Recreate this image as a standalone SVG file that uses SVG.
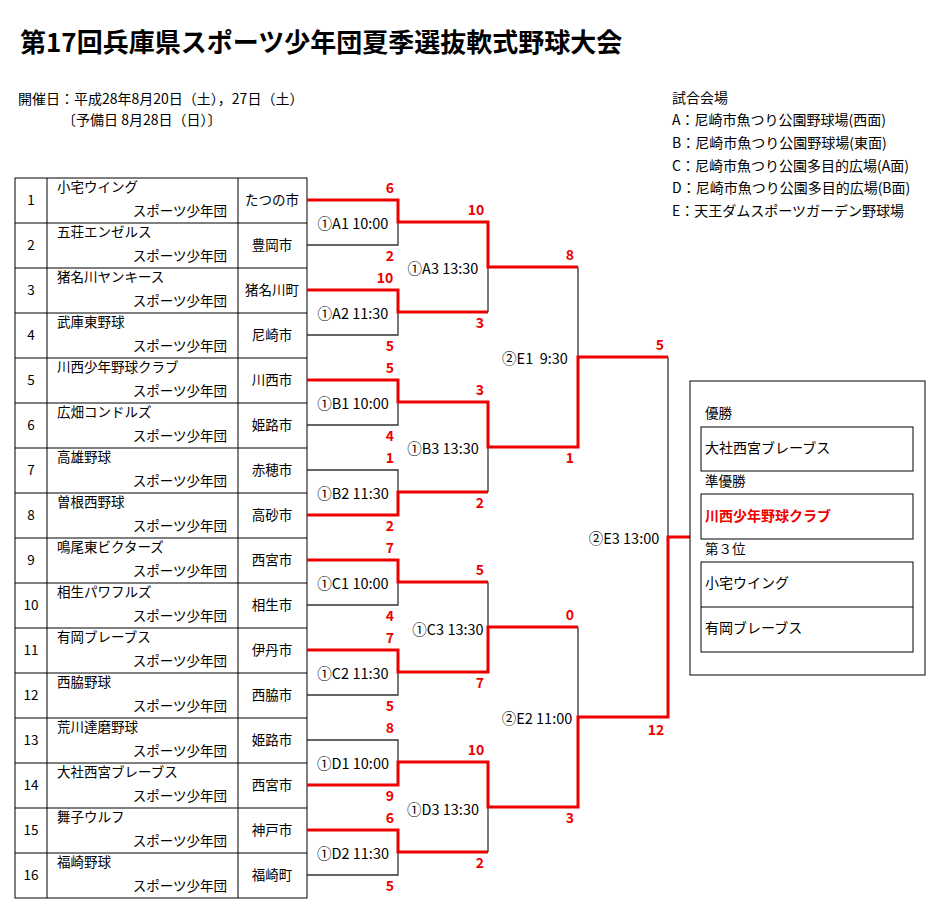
<svg xmlns="http://www.w3.org/2000/svg" width="939" height="923" viewBox="0 0 939 923">
<style>
text{font-family:"Noto Sans CJK JP","Liberation Sans",sans-serif;font-size:13.5px;fill:#000}
.t{font-size:26px;font-weight:bold}
.h{font-size:14px}
.c{text-anchor:middle}
.r{text-anchor:end}
.s{fill:#ee0000;font-weight:bold;text-anchor:middle;font-size:14px}
.g{text-anchor:middle;dominant-baseline:central;font-size:14.5px}
.cell{fill:none;stroke:#000;stroke-width:1}
.bk{fill:none;stroke:#333;stroke-width:1.3}
.rd{fill:none;stroke:#ee0000;stroke-width:3}
</style>
<rect width="939" height="923" fill="#fff"/>
<text class="t" x="20" y="52">第17回兵庫県スポーツ少年団夏季選抜軟式野球大会</text>
<text class="h" x="18" y="104">開催日：平成28年8月20日（土），27日（土）</text>
<text class="h" x="62" y="125">〔予備日 8月28日（日）〕</text>
<g id="venues">
<text class="h" x="672" y="103">試合会場</text>
<text class="h" x="672" y="125">A：尼崎市魚つり公園野球場(西面)</text>
<text class="h" x="672" y="148">B：尼崎市魚つり公園野球場(東面)</text>
<text class="h" x="672" y="171">C：尼崎市魚つり公園多目的広場(A面)</text>
<text class="h" x="672" y="193">D：尼崎市魚つり公園多目的広場(B面)</text>
<text class="h" x="672" y="216">E：天王ダムスポーツガーデン野球場</text>
</g>
<g id="table">
<rect class="cell" x="15" y="178" width="292" height="720"/>
<line class="cell" x1="47" y1="178" x2="47" y2="898"/>
<line class="cell" x1="238" y1="178" x2="238" y2="898"/>
<g stroke="#000">
<line x1="15" y1="223" x2="307" y2="223"/><line x1="15" y1="268" x2="307" y2="268"/><line x1="15" y1="313" x2="307" y2="313"/><line x1="15" y1="358" x2="307" y2="358"/><line x1="15" y1="403" x2="307" y2="403"/><line x1="15" y1="448" x2="307" y2="448"/><line x1="15" y1="493" x2="307" y2="493"/><line x1="15" y1="538" x2="307" y2="538"/><line x1="15" y1="583" x2="307" y2="583"/><line x1="15" y1="628" x2="307" y2="628"/><line x1="15" y1="673" x2="307" y2="673"/><line x1="15" y1="718" x2="307" y2="718"/><line x1="15" y1="763" x2="307" y2="763"/><line x1="15" y1="808" x2="307" y2="808"/><line x1="15" y1="853" x2="307" y2="853"/>
</g>
</g>
<g id="teams">
<g id="t1"><text class="c" x="31" y="205">1</text><text x="57" y="192">小宅ウイング</text><text class="r" x="227" y="216">スポーツ少年団</text><text class="c" x="272" y="205">たつの市</text></g>
<g id="t2"><text class="c" x="31" y="250">2</text><text x="57" y="237">五荘エンゼルス</text><text class="r" x="227" y="261">スポーツ少年団</text><text class="c" x="272" y="250">豊岡市</text></g>
<g id="t3"><text class="c" x="31" y="295">3</text><text x="57" y="282">猪名川ヤンキース</text><text class="r" x="227" y="306">スポーツ少年団</text><text class="c" x="272" y="295">猪名川町</text></g>
<g id="t4"><text class="c" x="31" y="340">4</text><text x="57" y="327">武庫東野球</text><text class="r" x="227" y="351">スポーツ少年団</text><text class="c" x="272" y="340">尼崎市</text></g>
<g id="t5"><text class="c" x="31" y="385">5</text><text x="57" y="372">川西少年野球クラブ</text><text class="r" x="227" y="396">スポーツ少年団</text><text class="c" x="272" y="385">川西市</text></g>
<g id="t6"><text class="c" x="31" y="430">6</text><text x="57" y="417">広畑コンドルズ</text><text class="r" x="227" y="441">スポーツ少年団</text><text class="c" x="272" y="430">姫路市</text></g>
<g id="t7"><text class="c" x="31" y="475">7</text><text x="57" y="462">高雄野球</text><text class="r" x="227" y="486">スポーツ少年団</text><text class="c" x="272" y="475">赤穂市</text></g>
<g id="t8"><text class="c" x="31" y="520">8</text><text x="57" y="507">曽根西野球</text><text class="r" x="227" y="531">スポーツ少年団</text><text class="c" x="272" y="520">高砂市</text></g>
<g id="t9"><text class="c" x="31" y="565">9</text><text x="57" y="552">鳴尾東ビクターズ</text><text class="r" x="227" y="576">スポーツ少年団</text><text class="c" x="272" y="565">西宮市</text></g>
<g id="t10"><text class="c" x="31" y="610">10</text><text x="57" y="597">相生パワフルズ</text><text class="r" x="227" y="621">スポーツ少年団</text><text class="c" x="272" y="610">相生市</text></g>
<g id="t11"><text class="c" x="31" y="655">11</text><text x="57" y="642">有岡ブレーブス</text><text class="r" x="227" y="666">スポーツ少年団</text><text class="c" x="272" y="655">伊丹市</text></g>
<g id="t12"><text class="c" x="31" y="700">12</text><text x="57" y="687">西脇野球</text><text class="r" x="227" y="711">スポーツ少年団</text><text class="c" x="272" y="700">西脇市</text></g>
<g id="t13"><text class="c" x="31" y="745">13</text><text x="57" y="732">荒川達磨野球</text><text class="r" x="227" y="756">スポーツ少年団</text><text class="c" x="272" y="745">姫路市</text></g>
<g id="t14"><text class="c" x="31" y="790">14</text><text x="57" y="777">大社西宮ブレーブス</text><text class="r" x="227" y="801">スポーツ少年団</text><text class="c" x="272" y="790">西宮市</text></g>
<g id="t15"><text class="c" x="31" y="835">15</text><text x="57" y="822">舞子ウルフ</text><text class="r" x="227" y="846">スポーツ少年団</text><text class="c" x="272" y="835">神戸市</text></g>
<g id="t16"><text class="c" x="31" y="880">16</text><text x="57" y="867">福崎野球</text><text class="r" x="227" y="891">スポーツ少年団</text><text class="c" x="272" y="880">福崎町</text></g>
</g>
<g id="connectors">
<g class="bk">
<path d="M307 245H398V222"/><path d="M307 335H398V312"/><path d="M307 425H398V402"/><path d="M307 470H398V492"/>
<path d="M307 605H398V582"/><path d="M307 695H398V672"/><path d="M307 740H398V762"/><path d="M307 875H398V852"/>
<path d="M488 312V267"/><path d="M488 492V447"/><path d="M488 582V627"/><path d="M488 852V807"/>
<path d="M578 267V357"/><path d="M578 627V717"/><path d="M668 357V537"/>
</g>
<g class="rd">
<path d="M307 200H398V222H488V267H578"/>
<path d="M307 290H398V312H488"/>
<path d="M307 380H398V402H488V447H578V357H668"/>
<path d="M307 515H398V492H488"/>
<path d="M307 560H398V582H488"/>
<path d="M307 650H398V672H488V627H578"/>
<path d="M307 785H398V762H488V807H578V717H668V537H690"/>
<path d="M307 830H398V852H488"/>
</g>
</g>
<g id="games">
<text class="g" x="353" y="222">①A1 10:00</text><text class="g" x="353" y="312">①A2 11:30</text>
<text class="g" x="353" y="402">①B1 10:00</text><text class="g" x="353" y="492">①B2 11:30</text>
<text class="g" x="353" y="582">①C1 10:00</text><text class="g" x="353" y="672">①C2 11:30</text>
<text class="g" x="353" y="762">①D1 10:00</text><text class="g" x="353" y="852">①D2 11:30</text>
<text class="g" x="443" y="267">①A3 13:30</text><text class="g" x="443" y="447">①B3 13:30</text>
<text class="g" x="448" y="628">①C3 13:30</text><text class="g" x="443" y="808">①D3 13:30</text>
<text class="g" x="535" y="357" style="white-space:pre">②E1  9:30</text><text class="g" x="537" y="717">②E2 11:00</text>
<text class="g" x="624" y="537">②E3 13:00</text>
</g>
<g id="scores">
<text class="s" x="390" y="193">6</text><text class="s" x="390" y="261">2</text>
<text class="s" x="385" y="283">10</text><text class="s" x="390" y="351">5</text>
<text class="s" x="390" y="373">5</text><text class="s" x="390" y="441">4</text>
<text class="s" x="390" y="463">1</text><text class="s" x="390" y="531">2</text>
<text class="s" x="390" y="553">7</text><text class="s" x="390" y="621">4</text>
<text class="s" x="390" y="643">7</text><text class="s" x="390" y="711">5</text>
<text class="s" x="390" y="733">8</text><text class="s" x="390" y="801">9</text>
<text class="s" x="390" y="823">6</text><text class="s" x="390" y="891">5</text>
<text class="s" x="476" y="215">10</text><text class="s" x="480" y="328">3</text>
<text class="s" x="480" y="395">3</text><text class="s" x="480" y="508">2</text>
<text class="s" x="480" y="575">5</text><text class="s" x="480" y="688">7</text>
<text class="s" x="476" y="755">10</text><text class="s" x="480" y="868">2</text>
<text class="s" x="570" y="260">8</text><text class="s" x="570" y="463">1</text>
<text class="s" x="570" y="620">0</text><text class="s" x="570" y="823">3</text>
<text class="s" x="660" y="350">5</text><text class="s" x="656" y="735">12</text>
</g>
<g id="results">
<rect class="cell" x="690" y="381" width="235" height="294"/>
<text x="705" y="418">優勝</text>
<rect class="cell" x="701" y="427" width="212" height="44"/>
<text class="h" x="705" y="453">大社西宮ブレーブス</text>
<text x="705" y="486">準優勝</text>
<rect class="cell" x="701" y="494" width="212" height="45"/>
<text class="h" x="705" y="521" style="fill:#ee0000;font-weight:bold">川西少年野球クラブ</text>
<text x="705" y="554">第３位</text>
<rect class="cell" x="701" y="562" width="212" height="90"/>
<line class="cell" x1="701" y1="607" x2="913" y2="607"/>
<text class="h" x="705" y="588">小宅ウイング</text>
<text class="h" x="705" y="633">有岡ブレーブス</text>
</g>
</svg>
